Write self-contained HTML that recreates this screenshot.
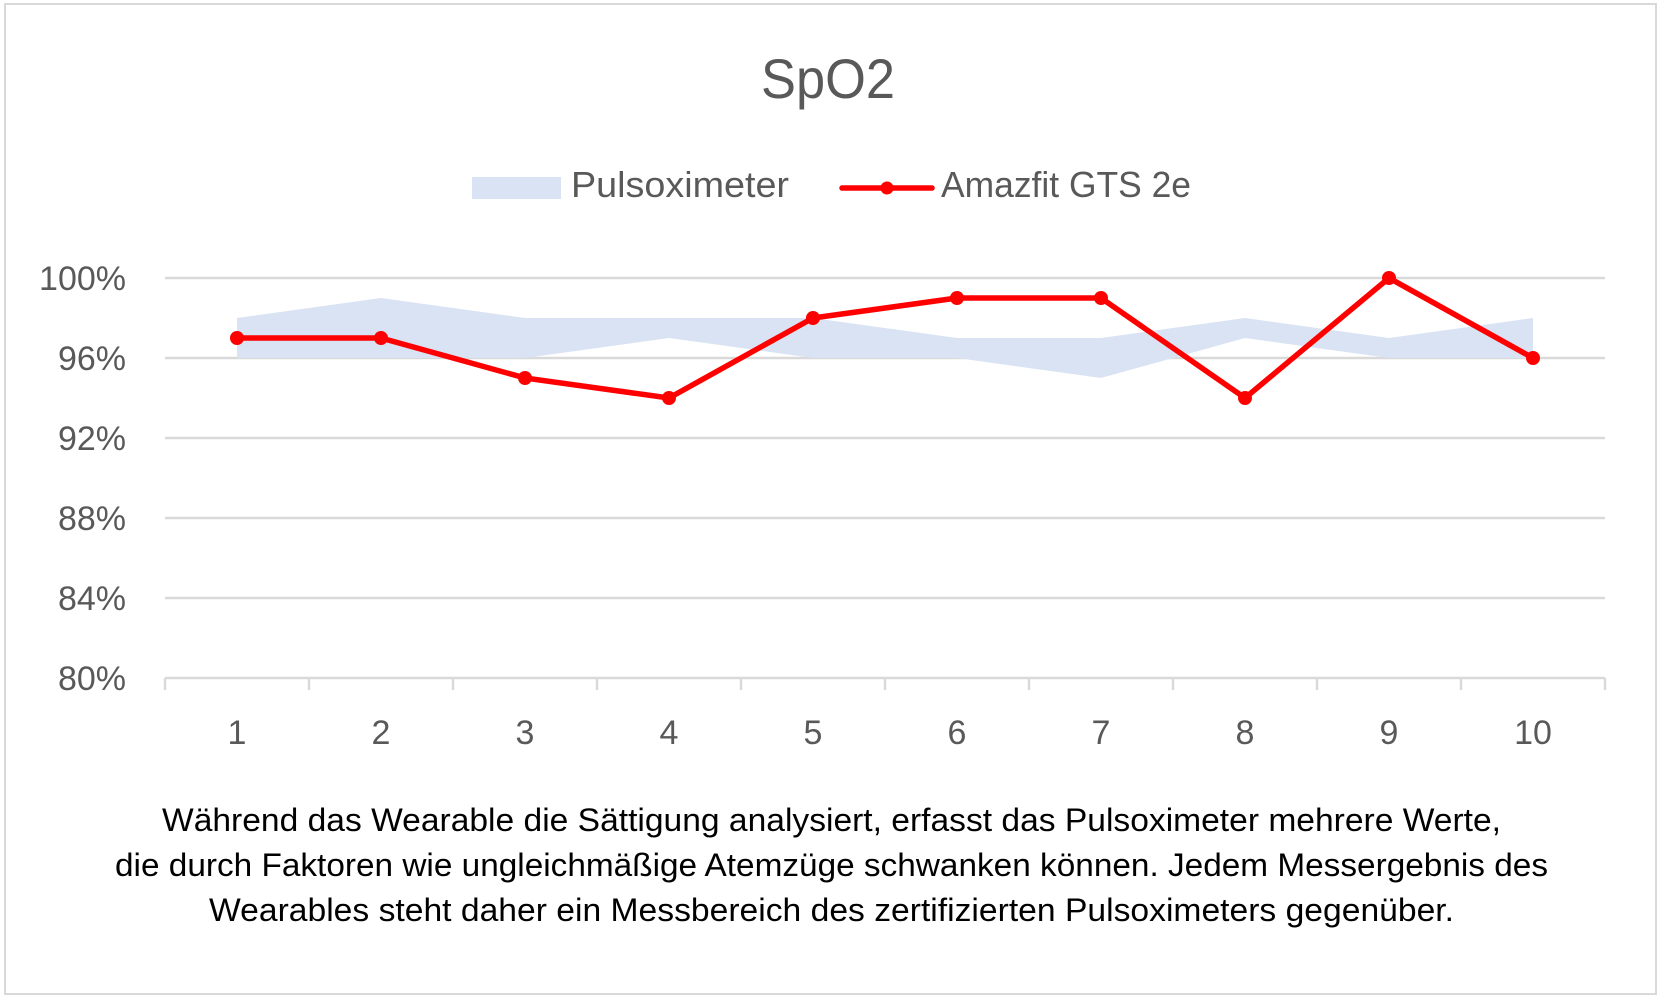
<!DOCTYPE html>
<html><head><meta charset="utf-8"><style>
html,body{margin:0;padding:0;background:#fff;}
svg{display:block;font-family:"Liberation Sans",sans-serif;}
</style></head><body>
<svg id="chart" width="1663" height="1003" viewBox="0 0 1663 1003" xmlns="http://www.w3.org/2000/svg">
<rect x="5" y="4" width="1651" height="990" fill="#fff" stroke="#d9d9d9" stroke-width="2"/>
<text x="828" y="98" text-anchor="middle" font-size="56" fill="#595959" textLength="134" lengthAdjust="spacingAndGlyphs">SpO2</text>
<g>
<rect x="472" y="177" width="89" height="22" fill="#dae3f3"/>
<text x="571" y="197" font-size="36" fill="#595959" textLength="218" lengthAdjust="spacingAndGlyphs">Pulsoximeter</text>
<line x1="842" y1="188" x2="932" y2="188" stroke="#ff0000" stroke-width="5.5" stroke-linecap="round"/>
<circle cx="887" cy="188" r="6.5" fill="#ff0000"/>
<text x="941" y="197" font-size="36" fill="#595959" textLength="250" lengthAdjust="spacingAndGlyphs">Amazfit GTS 2e</text>
</g>
<g id="grid"></g>
<g id="band"></g>
<g id="axis"></g>
<g id="series"></g>
<g font-size="32" fill="#000">
<text x="162" y="831" textLength="1339" lengthAdjust="spacingAndGlyphs">Während das Wearable die Sättigung analysiert, erfasst das Pulsoximeter mehrere Werte,</text>
<text x="115" y="876" textLength="1433" lengthAdjust="spacingAndGlyphs">die durch Faktoren wie ungleichmäßige Atemzüge schwanken können. Jedem Messergebnis des</text>
<text x="209" y="921" textLength="1245" lengthAdjust="spacingAndGlyphs">Wearables steht daher ein Messbereich des zertifizierten Pulsoximeters gegenüber.</text>
</g>
</svg>
<script>
const categories = ["1","2","3","4","5","6","7","8","9","10"];
const amazfit = [97,97,95,94,98,99,99,94,100,96];
const pulsUpper = [98,99,98,98,98,97,97,98,97,98];
const pulsLower = [96,96,96,97,96,96,95,97,96,96];
const yTicks = [80,84,88,92,96,100];
const yTickLabels = ["80%","84%","88%","92%","96%","100%"];

const NS = "http://www.w3.org/2000/svg";
const L = 165, R = 1605, T = 278, B = 678, yMin = 80, yMax = 100;
const step = (R - L) / categories.length;
function xPos(i){ return L + step * (i + 0.5); }
function yPos(v){ return B - (v - yMin) / (yMax - yMin) * (B - T); }
function mk(tag, attrs, parent){ const e = document.createElementNS(NS, tag); for (const k in attrs) e.setAttribute(k, attrs[k]); parent.appendChild(e); return e; }

const grid = document.getElementById('grid');
yTicks.forEach((v, i) => {
  if (v !== yMin) {
    const gl = mk('line', {x1:L, x2:R, y1:yPos(v), y2:yPos(v), stroke:'#d9d9d9', 'stroke-width':2.5}, grid);
    
    
  }
  const t = mk('text', {x:126, y:yPos(v) + 12, 'text-anchor':'end', 'font-size':34, fill:'#595959'}, grid);
  
  
  t.textContent = yTickLabels[i];
});

const band = document.getElementById('band');
let pts = [];
pulsUpper.forEach((v, i) => pts.push(xPos(i) + ',' + yPos(v)));
for (let i = pulsLower.length - 1; i >= 0; i--) pts.push(xPos(i) + ',' + yPos(pulsLower[i]));
const poly = mk('polygon', {points: pts.join(' '), fill:'#dae3f3'}, band);



const axis = document.getElementById('axis');
const ax = mk('line', {x1:L, x2:R, y1:B, y2:B, stroke:'#d9d9d9', 'stroke-width':2.5}, axis);


for (let i = 0; i <= categories.length; i++) {
  const tk = mk('line', {x1:L + step * i, x2:L + step * i, y1:B, y2:B + 12, stroke:'#d9d9d9', 'stroke-width':2.5}, axis);
  
  
}
categories.forEach((c, i) => {
  const t = mk('text', {x:xPos(i), y:744, 'text-anchor':'middle', 'font-size':34, fill:'#595959'}, axis);
  
  
  t.textContent = c;
});

const series = document.getElementById('series');
const line = mk('polyline', {points: amazfit.map((v, i) => xPos(i) + ',' + yPos(v)).join(' '), fill:'none', stroke:'#ff0000', 'stroke-width':5.5, 'stroke-linejoin':'round'}, series);


amazfit.forEach((v, i) => {
  const c = mk('circle', {cx:xPos(i), cy:yPos(v), r:7, fill:'#ff0000'}, series);
  
  
});
</script>
</body></html>
